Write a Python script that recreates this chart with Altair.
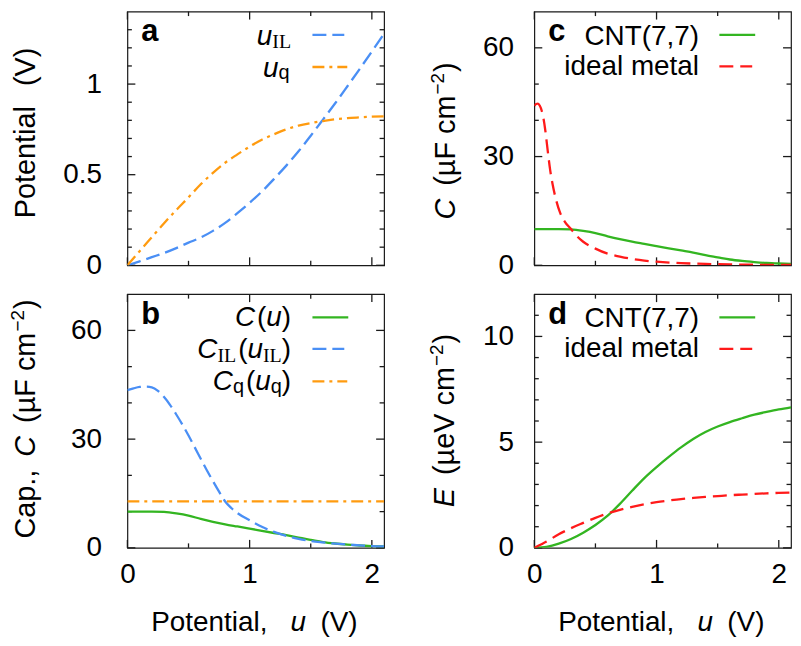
import altair as alt
import pandas as pd

# ---------------- data ----------------
# panel a : potential drops vs total potential u
U_A = [0.0, 0.1, 0.2, 0.3, 0.4, 0.5, 0.6, 0.7, 0.8, 0.9, 1.0, 1.1, 1.2, 1.3, 1.4, 1.5, 1.6, 1.7, 1.8, 1.9, 2.0, 2.1]
U_IL_VALS = [0.0, 0.022, 0.045, 0.068, 0.095, 0.125, 0.153, 0.190, 0.234, 0.288, 0.345, 0.407, 0.477, 0.550, 0.629,
             0.715, 0.804, 0.894, 0.988, 1.083, 1.180, 1.278]
U_Q_VALS = [0.0, 0.078, 0.155, 0.232, 0.305, 0.375, 0.447, 0.510, 0.566, 0.612, 0.655, 0.693, 0.723, 0.750, 0.771,
            0.785, 0.796, 0.806, 0.812, 0.817, 0.820, 0.822]

# panels b, c : total capacitance of CNT(7,7)
U_C = [0.0, 0.1, 0.2, 0.3, 0.4, 0.5, 0.6, 0.7, 0.8, 0.9, 1.0, 1.1, 1.2, 1.3, 1.4, 1.5, 1.6, 1.7, 1.8, 1.9, 2.0, 2.1]
C_CNT = [10.0, 10.0, 10.0, 9.9, 9.5, 8.9, 8.0, 7.2, 6.5, 5.9, 5.3, 4.7, 4.1, 3.5, 2.8, 2.2, 1.6, 1.2, 0.9, 0.65, 0.5, 0.4]

# panel b : ionic-liquid capacitance and quantum capacitance
U_CIL = [0.0, 0.05, 0.1, 0.15, 0.2, 0.25, 0.3, 0.35, 0.4, 0.45, 0.5, 0.55, 0.6, 0.65, 0.7, 0.75, 0.8, 0.85, 0.9,
         1.0, 1.1, 1.2, 1.3, 1.4, 1.5, 1.6, 1.7, 1.8, 1.9, 2.0, 2.1]
C_IL_VALS = [43.5, 44.0, 44.4, 44.5, 44.3, 43.3, 41.6, 39.4, 36.8, 34.0, 31.0, 27.8, 24.6, 21.4, 18.4, 15.5, 12.8,
             11.0, 9.6, 7.6, 5.8, 4.4, 3.3, 2.5, 1.9, 1.5, 1.15, 0.9, 0.7, 0.5, 0.4]
U_CQ = [0.0, 2.1]
C_Q_VALS = [12.8, 12.8]

# panel c : ideal metal capacitance
U_MC = [0.0, 0.015, 0.03, 0.045, 0.06, 0.075, 0.09, 0.11, 0.13, 0.15, 0.18, 0.21, 0.25, 0.30, 0.35, 0.40, 0.50,
        0.60, 0.70, 0.80, 0.90, 1.00, 1.20, 1.40, 1.60, 1.80, 2.00, 2.10]
C_METAL = [44.0, 44.5, 44.6, 44.0, 42.7, 40.5, 37.2, 31.5, 26.2, 22.3, 17.8, 14.6, 12.0, 10.0, 8.0, 6.5, 4.6,
           3.2, 2.4, 1.75, 1.3, 1.0, 0.6, 0.38, 0.25, 0.16, 0.1, 0.08]

# panel d : stored energy
U_E = [0.0, 0.1, 0.2, 0.3, 0.4, 0.5, 0.6, 0.7, 0.8, 0.9, 1.0, 1.1, 1.2, 1.3, 1.4, 1.5, 1.6, 1.7, 1.8, 1.9, 2.0, 2.1]
E_CNT = [0.0, 0.05, 0.2, 0.42, 0.72, 1.08, 1.52, 2.08, 2.7, 3.3, 3.82, 4.3, 4.75, 5.15, 5.48, 5.74, 5.95, 6.13,
         6.3, 6.43, 6.55, 6.65]
E_METAL = [0.0, 0.3, 0.64, 0.93, 1.18, 1.42, 1.63, 1.8, 1.94, 2.06, 2.16, 2.24, 2.31, 2.36, 2.41, 2.45, 2.49,
           2.52, 2.55, 2.58, 2.6, 2.62]

# ticks
X_MAJOR = [0, 1, 2]
X_MINOR = [0.5, 1.5]
A_Y_MAJOR = [0, 0.5, 1.0]
A_Y_MINOR = [0.1, 0.2, 0.3, 0.4, 0.6, 0.7, 0.8, 0.9, 1.1, 1.2, 1.3]
C_Y_MAJOR = [0, 30, 60]
C_Y_MINOR = [10, 20, 40, 50]
E_Y_MAJOR = [0, 5, 10]
E_Y_MINOR = [1, 2, 3, 4, 6, 7, 8, 9, 11]

# ---------------- style ----------------
FONT = "Liberation Sans"
SERIF = "Liberation Serif"
W, H = 258, 255
INK = "#1a1a1a"
GREEN, BLUE, ORANGE, RED = "#33b521", "#4a8ff5", "#ff9b0f", "#ff1a1a"
LW = 2.3
DASH = [14, 6]
DASH_RED = [14, 7]
DASHDOT = [12, 5, 3, 5]

ONE = pd.DataFrame({"k": [0]})
XS = alt.Scale(domain=[0, 2.1], nice=False, zero=False)

AW = {' ': 278, '(': 333, ')': 333, ',': 278, '.': 278, 'C': 722, 'N': 722, 'T': 611, 'P': 667, 'V': 667,
      'E': 667, 'F': 611, 'a': 556, 'c': 500, 'd': 556, 'e': 556, 'i': 222, 'l': 222, 'm': 833, 'n': 556,
      'o': 556, 'p': 556, 'q': 556, 't': 278, 'u': 556, 'µ': 576, '−': 584, '2': 556, '7': 556}
TW = {'I': 333, 'L': 611}


def tw(s, size, serif=False):
    tab = TW if serif else AW
    return sum(tab.get(ch, 556) for ch in s) * size / 1000.0


def txt(s, x, y, size=28, style="normal", weight="normal", font=FONT, align="left", angle=0):
    return alt.Chart(ONE).mark_text(
        text=s, font=font, fontSize=size, fontStyle=style, fontWeight=weight,
        align=align, baseline="alphabetic", angle=angle, color="black"
    ).encode(x=alt.value(x), y=alt.value(y))


def adv(p):
    if p[0] is None:
        return p[1]
    return tw(p[0], p[1], p[3])


def row(pieces, right, base):
    total = sum(adv(p) for p in pieces)
    x = right - total
    out = []
    for p in pieces:
        if p[0] is not None:
            s, size, style, serif, shift = p
            out.append(txt(s, x, base + shift, size, style, font=SERIF if serif else FONT))
        x += adv(p)
    return out


def col(pieces, xb, yc):
    total = sum(adv(p) for p in pieces)
    y = yc + total / 2.0
    out = []
    for p in pieces:
        if p[0] is not None:
            s, size, style, serif, shift = p
            out.append(txt(s, xb + shift, y, size, style, font=SERIF if serif else FONT, angle=270))
        y -= adv(p)
    return out


def sample(x1, x2, y, color, dash=None):
    mk = dict(color=color, strokeWidth=LW)
    if dash:
        mk["strokeDash"] = dash
    return alt.Chart(ONE).mark_rule(**mk).encode(x=alt.value(x1), x2=alt.value(x2), y=alt.value(y))


def panel(lines, ydom, ymaj, ymin, ypad, bottom, extras):
    ys = alt.Scale(domain=ydom, nice=False, zero=False)
    ax_y = alt.Axis(values=ymaj, format="~f", ticks=False, tickSize=0, domain=False, grid=False,
                    labelPadding=ypad, labelFlush=False, title=None)
    ax_x = (alt.Axis(values=X_MAJOR, format="~f", ticks=False, tickSize=0, domain=False, grid=False,
                     labelPadding=13, labelFlush=False, title=None) if bottom else None)
    layers = []
    # inward ticks on all four sides
    for vals, length in ((ymaj, 8), (ymin, 4.5)):
        b = alt.Chart(pd.DataFrame({"v": vals})).mark_rule(color=INK, strokeWidth=1.3)
        layers.append(b.encode(y=alt.Y("v:Q", scale=ys, axis=ax_y), x=alt.value(0), x2=alt.value(length)))
        layers.append(b.encode(y=alt.Y("v:Q", scale=ys, axis=ax_y), x=alt.value(W), x2=alt.value(W - length)))
    for vals, length in ((X_MAJOR, 8), (X_MINOR, 4.5)):
        b = alt.Chart(pd.DataFrame({"v": vals})).mark_rule(color=INK, strokeWidth=1.3)
        layers.append(b.encode(x=alt.X("v:Q", scale=XS, axis=ax_x), y=alt.value(H), y2=alt.value(H - length)))
        layers.append(b.encode(x=alt.X("v:Q", scale=XS, axis=ax_x), y=alt.value(0), y2=alt.value(length)))
    for u, v, color, dash in lines:
        df = pd.DataFrame({"u": u, "v": v})
        mk = dict(color=color, strokeWidth=LW, interpolate="monotone", clip=True)
        if dash:
            mk["strokeDash"] = dash
        layers.append(alt.Chart(df).mark_line(**mk).encode(
            x=alt.X("u:Q", scale=XS, axis=ax_x),
            y=alt.Y("v:Q", scale=ys, axis=ax_y)))
    layers += extras
    return alt.layer(*layers).properties(width=W, height=H)


R = 28  # regular text size
SUB = 20
TS = 29  # axis title size
XT = [txt("Potential,", 24, H + 84, R), txt("u", 164, H + 84, R, "italic"), txt("(V)", 194, H + 84, R)]

# ---- panel a ----
extras_a = [txt("a", 14, 30, 31, weight="bold")]
extras_a += row([("u", R, "italic", False, 0), ("IL", SUB, "normal", True, 3.5)], 164.5, 33.5)
extras_a += row([("u", R, "italic", False, 0), ("q", SUB, "normal", False, 2.5)], 163, 65.5)
extras_a += [sample(186, 218, 23.3, BLUE, DASH), sample(186, 221, 55.7, ORANGE, DASHDOT)]
extras_a += col([("Potential", TS, "normal", False, 0), (None, 20), ("(V)", TS, "normal", False, 0)], -93, 122)
pa = panel([(U_A, U_IL_VALS, BLUE, DASH), (U_A, U_Q_VALS, ORANGE, DASHDOT)],
           [0, 1.4], A_Y_MAJOR, A_Y_MINOR, 26, False, extras_a)

# ---- panel b ----
extras_b = [txt("b", 14, 30, 31, weight="bold")]
extras_b += row([("C", R, "italic", False, 0), (None, 2), ("(", R, "normal", False, 0), ("u", R, "italic", False, 0),
                 (")", R, "normal", False, 0)], 164.5, 31.7)
extras_b += row([("C", R, "italic", False, 0), ("IL", SUB, "normal", True, 3.5), (None, 2),
                 ("(", R, "normal", False, 0), ("u", R, "italic", False, 0), ("IL", SUB, "normal", True, 3.5),
                 (")", R, "normal", False, 0)], 164.5, 64.5)
extras_b += row([("C", R, "italic", False, 0), ("q", SUB, "normal", False, 2.5), (None, 2),
                 ("(", R, "normal", False, 0), ("u", R, "italic", False, 0), ("q", SUB, "normal", False, 2.5),
                 (")", R, "normal", False, 0)], 164.5, 96.5)
extras_b += [sample(186, 222, 23.3, GREEN), sample(186, 218, 55, BLUE, DASH),
             sample(186, 221, 87.7, ORANGE, DASHDOT)]
extras_b += col([("Cap.,", TS, "normal", False, 0), (None, 13), ("C", TS, "italic", False, 0), (None, 13),
                 ("(µF cm", TS, "normal", False, 0), (None, 1), ("−2", 19, "normal", False, -11),
                 (None, 1), (")", TS, "normal", False, 0)], -93, 125.5)
extras_b += XT
pb = panel([(U_C, C_CNT, GREEN, None), (U_CIL, C_IL_VALS, BLUE, DASH), (U_CQ, C_Q_VALS, ORANGE, DASHDOT)],
           [0, 70], C_Y_MAJOR, C_Y_MINOR, 26, True, extras_b)

# ---- panel c ----
extras_c = [txt("c", 14, 30, 31, weight="bold")]
extras_c += [txt("CNT(7,7)", 165.5, 33.3, R, align="right"), txt("ideal metal", 165.5, 63.3, R, align="right")]
extras_c += [sample(186, 222, 23.3, GREEN), sample(186, 219, 55, RED, DASH_RED)]
extras_c += col([("C", TS, "italic", False, 0), (None, 13), ("(µF cm", TS, "normal", False, 0), (None, 1),
                 ("−2", 19, "normal", False, -11), (None, 1), (")", TS, "normal", False, 0)], -80, 130)
pc = panel([(U_C, C_CNT, GREEN, None), (U_MC, C_METAL, RED, DASH_RED)],
           [0, 70], C_Y_MAJOR, C_Y_MINOR, 21, False, extras_c)

# ---- panel d ----
extras_d = [txt("d", 14, 30, 31, weight="bold")]
extras_d += [txt("CNT(7,7)", 165.5, 33.3, R, align="right"), txt("ideal metal", 165.5, 63.3, R, align="right")]
extras_d += [sample(186, 222, 23.3, GREEN), sample(186, 219, 55, RED, DASH_RED)]
extras_d += col([("E", TS, "italic", False, 0), (None, 13), ("(µeV cm", TS, "normal", False, 0), (None, 1),
                 ("−2", 19, "normal", False, -11), (None, 1), (")", TS, "normal", False, 0)], -81, 127)
extras_d += XT
pd_ = panel([(U_E, E_CNT, GREEN, None), (U_E, E_METAL, RED, DASH_RED)],
            [0, 12], E_Y_MAJOR, E_Y_MINOR, 21, True, extras_d)

chart = alt.concat(pa, pc, pb, pd_, columns=2, spacing={"row": 29, "column": 151},
                   bounds="flush").properties(padding=0).configure_view(
    stroke=INK, strokeWidth=1.2
).configure_axis(labelFont=FONT, labelFontSize=R, labelColor="black")

chart.save("out.html", embed_options={"renderer": "svg", "actions": False})
